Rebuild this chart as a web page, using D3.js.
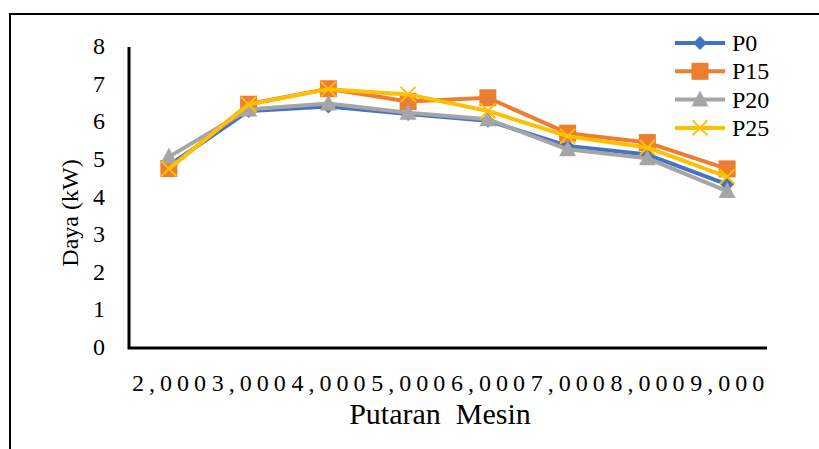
<!DOCTYPE html>
<html>
<head>
<meta charset="utf-8">
<script src="https://cdn.jsdelivr.net/npm/d3@7/dist/d3.min.js"></script>
<style>
  html, body { margin: 0; padding: 0; background: #fff; }
  svg { display: block; }
</style>
</head>
<body>
<svg id="chart" width="819" height="449"></svg>
<script>
// Engine speed (rpm) categories and power output (kW) per fuel blend
const rpm = [2000, 3000, 4000, 5000, 6000, 7000, 8000, 9000];
const p0  = [4.85, 6.30, 6.42, 6.22, 6.04, 5.37, 5.14, 4.35];
const p15 = [4.77, 6.48, 6.89, 6.55, 6.65, 5.71, 5.46, 4.76];
const p20 = [5.08, 6.34, 6.50, 6.25, 6.08, 5.28, 5.04, 4.17];
const p25 = [4.76, 6.47, 6.88, 6.74, 6.30, 5.63, 5.33, 4.55];
const yTicks = [0, 1, 2, 3, 4, 5, 6, 7, 8];

const series = [
  { name: "P0",  values: p0,  color: "#4472C4", marker: "diamond" },
  { name: "P15", values: p15, color: "#ED7D31", marker: "square" },
  { name: "P20", values: p20, color: "#A5A5A5", marker: "triangle" },
  { name: "P25", values: p25, color: "#FFC000", marker: "cross" }
];

const serif = "'Liberation Serif', 'Times New Roman', Times, 'DejaVu Serif', serif";

const svg = d3.select("#chart")
  .attr("font-family", serif);

// Outer frame (top and left edges)
svg.append("path")
  .attr("d", "M10,449 L10,14 L819,14")
  .attr("fill", "none").attr("stroke", "#000").attr("stroke-width", 2);

const plotLeft = 129, plotRight = 767, plotTop = 47, plotBottom = 348;

const x = d3.scaleBand().domain(rpm).range([plotLeft, plotRight]);
const y = d3.scaleLinear().domain([0, 8]).range([plotBottom, plotTop]);
const cx = d => x(d) + x.bandwidth() / 2;

// Axis lines
svg.append("path")
  .attr("d", `M${plotLeft},${plotTop} L${plotLeft},${plotBottom} L${plotRight},${plotBottom}`)
  .attr("fill", "none").attr("stroke", "#000").attr("stroke-width", 3);

// Y tick labels
svg.append("g").selectAll("text").data(yTicks).join("text")
  .attr("x", 105)
  .attr("y", d => y(d) + 7)
  .attr("text-anchor", "end")
  .attr("font-family", serif)
  .attr("font-size", 24)
  .text(d => d);

// X tick labels
const fmt = d3.format(",");
svg.append("g").selectAll("text").data(rpm).join("text")
  .attr("x", d => cx(d) + 2.5)
  .attr("y", 391)
  .attr("text-anchor", "middle")
  .attr("font-family", serif)
  .attr("font-size", 24)
  .attr("letter-spacing", "5px")
  .text(d => fmt(d));

// Axis titles
svg.append("text")
  .attr("transform", "translate(78,213) rotate(-90)")
  .attr("text-anchor", "middle")
  .attr("font-family", serif)
  .attr("font-size", 24)
  .text("Daya (kW)");

svg.append("text")
  .attr("x", 440).attr("y", 424)
  .attr("text-anchor", "middle")
  .attr("font-family", serif)
  .attr("font-size", 30)
  .style("white-space", "pre")
  .text("Putaran  Mesin");

// Marker shapes
function drawMarker(g, type, color, px, py) {
  if (type === "diamond") {
    g.append("path")
      .attr("d", `M${px},${py - 7} L${px + 7},${py} L${px},${py + 7} L${px - 7},${py} Z`)
      .attr("fill", color);
  } else if (type === "square") {
    g.append("rect")
      .attr("x", px - 8.5).attr("y", py - 8.5)
      .attr("width", 17).attr("height", 17)
      .attr("fill", color);
  } else if (type === "triangle") {
    g.append("path")
      .attr("d", `M${px},${py - 9} L${px + 8.5},${py + 7} L${px - 8.5},${py + 7} Z`)
      .attr("fill", color);
  } else if (type === "cross") {
    g.append("path")
      .attr("d", `M${px - 7.5},${py - 7.5} L${px + 7.5},${py + 7.5} M${px + 7.5},${py - 7.5} L${px - 7.5},${py + 7.5}`)
      .attr("stroke", color).attr("stroke-width", 2).attr("fill", "none");
  }
}

const line = d3.line()
  .x((d, i) => cx(rpm[i]))
  .y(d => y(d));

series.forEach(s => {
  const g = svg.append("g");
  g.append("path")
    .attr("d", line(s.values))
    .attr("fill", "none")
    .attr("stroke", s.color)
    .attr("stroke-width", 4)
    .attr("stroke-linejoin", "round");
  s.values.forEach((v, i) => drawMarker(g, s.marker, s.color, cx(rpm[i]), y(v)));
});

// Legend
const legend = svg.append("g");
series.forEach((s, i) => {
  const ly = 43 + i * 28.3;
  legend.append("line")
    .attr("x1", 675).attr("x2", 725)
    .attr("y1", ly).attr("y2", ly)
    .attr("stroke", s.color).attr("stroke-width", 4);
  drawMarker(legend, s.marker, s.color, 700, ly);
  legend.append("text")
    .attr("x", 732).attr("y", ly + 8)
    .attr("font-family", serif)
    .attr("font-size", 24)
    .text(s.name);
});
</script>
</body>
</html>
